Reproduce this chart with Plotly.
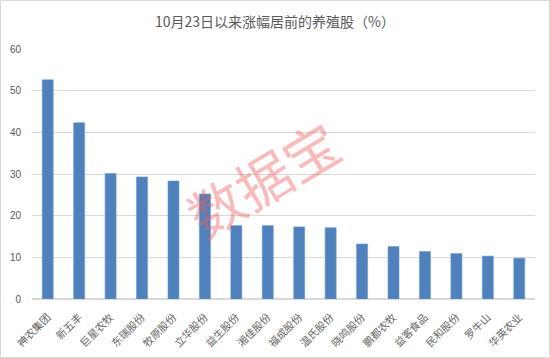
import plotly.graph_objects as go

categories = ["神农集团", "新五丰", "巨星农牧", "东瑞股份", "牧原股份", "立华股份", "益生股份", "湘佳股份",
              "福成股份", "温氏股份", "晓鸣股份", "鹏都农牧", "益客食品", "民和股份", "罗牛山", "华英农业"]
values = [52.6, 42.3, 30.1, 29.3, 28.3, 25.2, 17.6, 17.6, 17.3, 17.1, 13.2, 12.6, 11.4, 10.9, 10.3, 9.8]
y_ticks = [0, 10, 20, 30, 40, 50, 60]
title_text = "10月23日以来涨幅居前的养殖股（%）"
watermark = "数据宝"

W, H = 550, 358
L, R, T, B = 32, 15, 49, 59

fig = go.Figure(go.Bar(
    x=categories, y=values,
    marker=dict(color="#4f81bd", line=dict(color="#6a97cf", width=0.6)),
))

fig.update_layout(
    width=W, height=H,
    margin=dict(l=L, r=R, t=T, b=B, autoexpand=False),
    paper_bgcolor="white", plot_bgcolor="white",
    bargap=0.65,
    showlegend=False,
    font=dict(family="Noto Sans CJK SC, sans-serif", color="#595959"),
    title=dict(text=title_text, x=0.5, xanchor="center", y=1 - 22 / H, yanchor="middle",
               font=dict(size=14, color="#595959", family="Noto Sans CJK SC, sans-serif")),
)
fig.update_yaxes(range=[0, 60], tickvals=y_ticks, showgrid=True, gridcolor="#d9d9d9", gridwidth=1,
                 zeroline=True, zerolinecolor="#d9d9d9", showline=False, ticks="", automargin=False,
                 tickfont=dict(size=10, color="#595959", family="Liberation Sans, Arial"),
                 ticklabelstandoff=10)
fig.update_xaxes(tickangle=-45, showline=False, automargin=False,
                 ticks="outside", ticklen=7, tickcolor="rgba(0,0,0,0)",
                 tickfont=dict(size=10.5, color="#666666", family="Noto Sans CJK SC"))

# watermark
fig.add_annotation(text=watermark, xref="paper", yref="paper",
                   x=(262 - L) / (W - L - R), y=1 - (178 - T) / (H - T - B),
                   showarrow=False, textangle=-31,
                   font=dict(size=55, color="rgba(240,90,90,0.42)", family="Noto Sans CJK SC"))

# outer border
pw, ph = W - L - R, H - T - B
fig.add_shape(type="rect", xref="paper", yref="paper",
              x0=(0.5 - L) / pw, x1=(W - 0.5 - L) / pw,
              y0=-(B - 0.5) / ph, y1=1 + (T - 0.5) / ph,
              line=dict(color="#d9d9d9", width=1), layer="below")

fig.write_html("out.html", config={"displayModeBar": False},
               post_script="document.body.style.margin='0';document.body.style.overflow='hidden';")
